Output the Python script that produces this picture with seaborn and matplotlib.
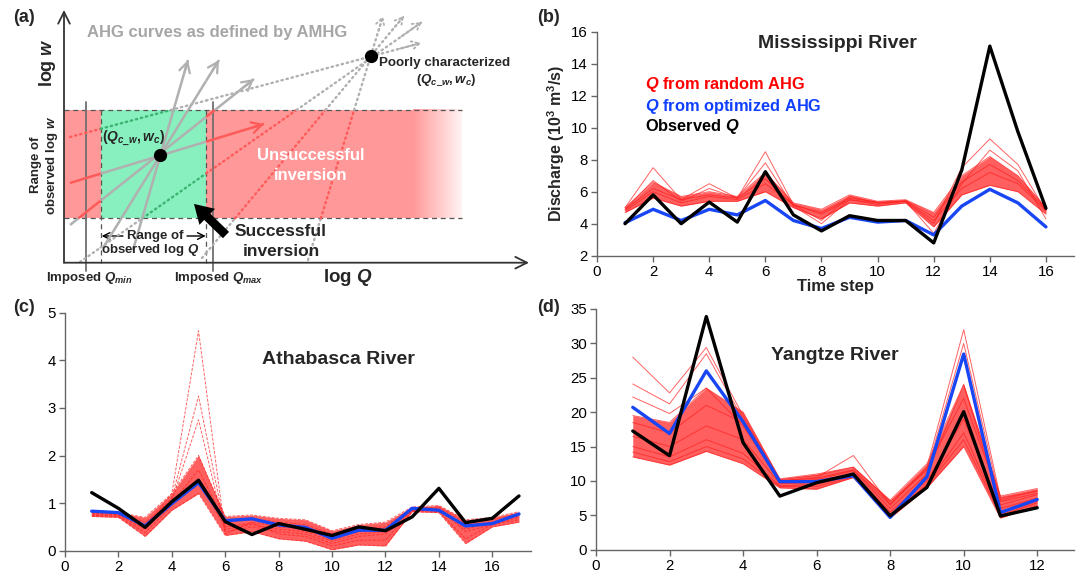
import numpy as np
import pandas as pd
import matplotlib
matplotlib.use("Agg")
import matplotlib.pyplot as plt
import seaborn as sns
from matplotlib.patches import Rectangle, FancyArrowPatch

# ---------------- data ----------------
MS_T = list(range(1, 17))
MS_OBS = [4.0, 5.8, 4.0, 5.35, 4.1, 7.25, 4.55, 3.55, 4.5, 4.2, 4.2, 2.8, 7.35, 15.1, 9.75, 4.96]
MS_OPT = [4.06, 4.9, 4.2, 4.9, 4.55, 5.45, 4.2, 3.7, 4.4, 4.1, 4.2, 3.3, 5.1, 6.15, 5.3, 3.8]
MS_LO = [4.7, 5.6, 5.1, 5.4, 5.4, 6.0, 5.0, 4.3, 5.3, 5.1, 5.3, 3.8, 5.8, 6.4, 6.0, 4.6]
MS_HI = [5.0, 6.6, 5.7, 6.0, 5.7, 7.2, 5.3, 4.9, 5.8, 5.4, 5.5, 4.7, 7.0, 8.2, 7.0, 5.0]
MS_M1 = [5.0, 7.5, 5.5, 6.5, 5.6, 8.5, 5.2, 4.2, 5.7, 5.3, 5.4, 4.0, 7.5, 9.3, 7.7, 4.8]
MS_M2 = [4.9, 6.7, 5.4, 6.2, 5.6, 7.8, 5.1, 4.0, 5.5, 5.2, 5.4, 3.4, 6.5, 8.6, 7.3, 4.3]
MS_M3 = [4.8, 6.0, 5.3, 5.7, 5.5, 6.5, 5.2, 4.6, 5.5, 5.3, 5.4, 4.2, 6.2, 7.2, 6.5, 4.8]
MS_M4 = [4.9, 6.2, 5.5, 5.8, 5.6, 6.8, 5.15, 4.7, 5.6, 5.35, 5.45, 4.4, 6.6, 7.7, 6.7, 4.9]

AT_T = list(range(1, 18))
AT_OBS = [1.22, 0.89, 0.49, 1.03, 1.48, 0.61, 0.34, 0.57, 0.45, 0.32, 0.5, 0.42, 0.71, 1.31, 0.59, 0.68, 1.15]
AT_OPT = [0.83, 0.8, 0.52, 0.99, 1.43, 0.63, 0.67, 0.54, 0.49, 0.26, 0.43, 0.43, 0.89, 0.85, 0.52, 0.57, 0.77]
AT_LO = [0.72, 0.70, 0.30, 0.85, 1.20, 0.32, 0.40, 0.25, 0.20, 0.02, 0.12, 0.10, 0.82, 0.80, 0.15, 0.50, 0.60]
AT_HI = [0.84, 0.80, 0.70, 1.20, 2.00, 0.72, 0.75, 0.68, 0.65, 0.42, 0.55, 0.60, 0.92, 0.95, 0.65, 0.70, 0.82]
AT_M1 = [0.78, 0.76, 0.50, 1.20, 4.62, 0.35, 0.60, 0.50, 0.45, 0.25, 0.40, 0.45, 0.88, 0.90, 0.50, 0.60, 0.72]
AT_M2 = [0.80, 0.77, 0.55, 1.10, 3.25, 0.45, 0.55, 0.45, 0.40, 0.20, 0.35, 0.40, 0.86, 0.88, 0.45, 0.60, 0.75]
AT_M3 = [0.76, 0.74, 0.45, 1.05, 2.75, 0.40, 0.50, 0.40, 0.35, 0.15, 0.30, 0.35, 0.85, 0.87, 0.40, 0.55, 0.70]
AT_M4 = [0.82, 0.79, 0.60, 1.00, 1.70, 0.60, 0.68, 0.60, 0.55, 0.35, 0.48, 0.50, 0.90, 0.92, 0.58, 0.65, 0.78]
AT_M5 = [0.74, 0.72, 0.38, 0.95, 1.45, 0.50, 0.58, 0.35, 0.30, 0.10, 0.22, 0.22, 0.84, 0.83, 0.25, 0.55, 0.65]

YZ_T = list(range(1, 13))
YZ_OBS = [17.26, 13.67, 33.9, 15.56, 7.8, 9.74, 11.0, 4.94, 9.06, 20.07, 4.9, 6.1]
YZ_OPT = [20.7, 16.9, 26.0, 18.6, 9.9, 9.9, 10.76, 4.7, 10.6, 28.45, 5.4, 7.3]
YZ_LO = [13.5, 12.3, 14.3, 12.5, 9.0, 8.8, 10.5, 4.6, 9.0, 15.0, 4.6, 6.4]
YZ_HI = [19.5, 18.5, 23.5, 20.0, 10.3, 11.0, 12.0, 7.2, 12.5, 24.0, 7.8, 8.9]
YZ_M1 = [28.0, 22.8, 29.4, 19.5, 10.0, 10.5, 13.7, 6.5, 12.0, 32.0, 7.5, 8.5]
YZ_M2 = [24.1, 21.2, 28.5, 19.0, 10.2, 10.8, 12.0, 7.0, 11.5, 30.0, 7.0, 8.2]
YZ_M3 = [22.2, 19.8, 23.5, 18.0, 9.8, 10.2, 11.5, 6.0, 11.0, 24.0, 6.5, 8.0]
YZ_M4 = [16.5, 15.0, 18.0, 16.0, 9.6, 9.8, 11.0, 5.5, 10.0, 19.0, 6.0, 7.5]
YZ_M5 = [15.0, 13.5, 16.0, 14.0, 9.3, 9.5, 10.8, 5.0, 9.5, 17.0, 5.3, 7.0]
YZ_M6 = [18.5, 17.0, 21.0, 18.5, 10.0, 10.4, 11.6, 6.6, 11.8, 22.0, 7.2, 8.6]
YZ_M7 = [14.2, 12.8, 15.0, 13.2, 9.2, 9.2, 10.6, 4.8, 9.3, 16.0, 5.0, 6.8]

# ---------------- schematic geometry for panel (a), pixel units ----------------
A_ORIGIN = (64, 262.7)
A_X_END = (529, 262.7)
A_Y_END = (64, 10)
A_BOX_Y = (110, 218.3)
A_GREEN_X = (100.7, 206.2)
A_PINK_X = (64, 462)
A_FADE_X0 = 413
A_IMPOSED_X = (85.5, 212.7)
A_IMPOSED_Y = (102, 271)
A_C = (160, 155)
A_P = (371, 56)
A_SOLID = [((70, 225), (254, 79)), ((70, 183), (264, 124)),
           ((103, 248), (219, 60)), ((133, 250), (188, 60))]
A_DOTTED = [((70, 137), (421, 43)), ((80, 262), (422, 22)),
            ((202, 258), (404, 16)), ((308, 260), (383, 16))]
A_BIG_ARROW = ((228, 237), (192, 202))

# ---------------- style ----------------
sns.set_theme(style="ticks")
plt.rcParams["font.family"] = ["Liberation Sans", "DejaVu Sans"]
plt.rcParams["mathtext.fontset"] = "custom"
plt.rcParams["mathtext.it"] = "Liberation Sans:italic:bold"
plt.rcParams["mathtext.rm"] = "Liberation Sans:bold"
plt.rcParams["mathtext.bf"] = "Liberation Sans:bold"

W, H = 1081, 579
fig = plt.figure(figsize=(W / 100, H / 100), dpi=100)
fig.patch.set_facecolor("white")

ax0 = fig.add_axes([0, 0, 1, 1])
ax0.set_xlim(0, W)
ax0.set_ylim(H, 0)
ax0.axis("off")
ax0.patch.set_visible(False)

PINK = (1.0, 0.60, 0.60)
GREEN = "#88f0be"
REDLINE = "#ff5a5a"
GRAYLINE = "#b0b0b0"
GREENDOT = "#3cb371"

# boxes
ax0.add_patch(Rectangle((A_PINK_X[0], A_BOX_Y[0]), A_GREEN_X[0] - A_PINK_X[0],
                        A_BOX_Y[1] - A_BOX_Y[0], color=PINK, lw=0, zorder=1))
ax0.add_patch(Rectangle((A_GREEN_X[1], A_BOX_Y[0]), A_FADE_X0 - A_GREEN_X[1],
                        A_BOX_Y[1] - A_BOX_Y[0], color=PINK, lw=0, zorder=1))
ax0.add_patch(Rectangle((A_GREEN_X[0], A_BOX_Y[0]), A_GREEN_X[1] - A_GREEN_X[0],
                        A_BOX_Y[1] - A_BOX_Y[0], color=GREEN, lw=0, zorder=1))
grad = np.zeros((1, 64, 4))
grad[..., 0], grad[..., 1], grad[..., 2] = PINK
grad[0, :, 3] = np.linspace(1, 0.12, 64)
ax0.imshow(grad, extent=(A_FADE_X0, A_PINK_X[1], A_BOX_Y[1], A_BOX_Y[0]),
           aspect="auto", interpolation="bilinear", zorder=1)
ax0.set_xlim(0, W)
ax0.set_ylim(H, 0)

# dashed box lines
for yb in A_BOX_Y:
    ax0.plot([A_PINK_X[0], A_PINK_X[1]], [yb, yb], color="#555555", lw=0.9,
             ls=(0, (4, 3)), zorder=3)
for xb in A_GREEN_X:
    ax0.plot([xb, xb], [A_BOX_Y[0], A_ORIGIN[1]], color="#555555", lw=0.9,
             ls=(0, (4, 3)), zorder=3)
# imposed lines
for xi in A_IMPOSED_X:
    ax0.plot([xi, xi], list(A_IMPOSED_Y), color="#707070", lw=1.3, zorder=3)


def region(x, y):
    if A_BOX_Y[0] <= y <= A_BOX_Y[1]:
        if A_GREEN_X[0] <= x <= A_GREEN_X[1]:
            return "green"
        if A_PINK_X[0] <= x <= A_PINK_X[1]:
            return "pink"
    return "out"


COLS = {"solid": {"out": GRAYLINE, "green": GRAYLINE, "pink": REDLINE},
        "dotted": {"out": GRAYLINE, "green": GREENDOT, "pink": REDLINE}}


def draw_line(p0, p1, style):
    (x0, y0), (x1, y1) = p0, p1
    ts = {0.0, 1.0}
    for bx in [A_PINK_X[0], A_GREEN_X[0], A_GREEN_X[1], A_PINK_X[1]]:
        t = (bx - x0) / (x1 - x0)
        if 0 < t < 1:
            ts.add(t)
    for by in A_BOX_Y:
        t = (by - y0) / (y1 - y0)
        if 0 < t < 1:
            ts.add(t)
    ts = sorted(ts)
    last = None
    for ta, tb in zip(ts[:-1], ts[1:]):
        tm = 0.5 * (ta + tb)
        col = COLS[style][region(x0 + tm * (x1 - x0), y0 + tm * (y1 - y0))]
        kw = dict(color=col, lw=1.8, zorder=4)
        if style == "dotted":
            kw.update(ls=(0, (0.6, 1.6)), dash_capstyle="round", lw=1.7)
        else:
            kw.update(solid_capstyle="butt")
        ax0.plot([x0 + ta * (x1 - x0), x0 + tb * (x1 - x0)],
                 [y0 + ta * (y1 - y0), y0 + tb * (y1 - y0)], **kw)
        last = col
    back = (x1 - 0.06 * (x1 - x0), y1 - 0.06 * (y1 - y0))
    if style == "dotted":
        ap = dict(arrowstyle="->,head_length=0.5,head_width=0.28", color=last,
                  lw=1.3, shrinkA=0, shrinkB=0, mutation_scale=11, linestyle=":")
    else:
        ap = dict(arrowstyle="->,head_length=0.55,head_width=0.3", color=last,
                  lw=1.6, shrinkA=0, shrinkB=0, mutation_scale=13)
    ax0.annotate("", xy=(x1, y1), xytext=back, arrowprops=ap, zorder=4)


for p0, p1 in A_DOTTED:
    draw_line(p0, p1, "dotted")
for p0, p1 in A_SOLID:
    draw_line(p0, p1, "solid")

# axes with arrows
for end in (A_X_END, A_Y_END):
    ax0.annotate("", xy=end, xytext=A_ORIGIN,
                 arrowprops=dict(arrowstyle="->,head_length=0.6,head_width=0.3",
                                 color="#333333", lw=1.3, shrinkA=0, shrinkB=0,
                                 mutation_scale=14), zorder=5)

# points
ax0.plot(*A_C, "o", color="black", ms=8.5, zorder=6)
ax0.plot(*A_P, "o", color="black", ms=8.5, zorder=6)

# big arrow
ax0.add_patch(FancyArrowPatch(A_BIG_ARROW[0], A_BIG_ARROW[1],
                              arrowstyle="simple,head_width=1.15,head_length=0.95,tail_width=0.45",
                              mutation_scale=14, color="black", lw=0, zorder=6))

# range-of-Q arrows
ax0.annotate("", xy=(A_GREEN_X[0] + 1, 236), xytext=(123, 236),
             arrowprops=dict(arrowstyle="->", color="black", lw=1.0, shrinkA=0, shrinkB=0))
ax0.annotate("", xy=(A_GREEN_X[1] - 0.5, 236), xytext=(187, 236),
             arrowprops=dict(arrowstyle="->", color="black", lw=1.0, shrinkA=0, shrinkB=0))

# texts of panel (a)
tk = dict(ha="center", va="center", fontweight="bold", zorder=7)
ax0.text(24, 18, "(a)", fontsize=13, **tk)
ax0.text(217, 32, "AHG curves as defined by AMHG", fontsize=12, color="#a6a6a6", **tk)
ax0.text(47, 63, r"log $w$", fontsize=13, rotation=90, **tk)
ax0.text(348, 278, r"log $Q$", fontsize=13.5, **tk)
ax0.text(89, 278, r"Imposed $Q_{min}$", fontsize=9.5, **tk)
ax0.text(219, 278, r"Imposed $Q_{max}$", fontsize=9.5, **tk)
ax0.text(45, 165, "Range of\n" + r"observed log $w$", fontsize=9.5, rotation=90,
         linespacing=1.1, ha="center", va="center", fontweight="bold", zorder=7)
ax0.text(133, 138, r"$(Q_{c\_w}, w_c)$", fontsize=10, **tk)
ax0.text(379, 63, "Poorly characterized", fontsize=9.6, ha="left", va="center",
         fontweight="bold", zorder=7)
ax0.text(446, 80, r"$(Q_{c\_w}, w_c)$", fontsize=9.6, **tk)
ax0.text(311, 155, "Unsuccessful", fontsize=12, color="white", **tk)
ax0.text(311, 175, "inversion", fontsize=12, color="white", **tk)
ax0.text(281, 231, "Successful", fontsize=12.5, **tk)
ax0.text(281, 252, "inversion", fontsize=12.5, **tk)
ax0.text(155, 236, "Range of", fontsize=9.5, **tk)
ax0.text(150, 250, r"observed log $Q$", fontsize=9.5, **tk)

# panel labels and titles
ax0.text(548, 17, "(b)", fontsize=13, **tk)
ax0.text(24, 308, "(c)", fontsize=13, **tk)
ax0.text(548, 308, "(d)", fontsize=13, **tk)
ax0.text(837, 43, "Mississippi River", fontsize=14, **tk)
ax0.text(338, 359, "Athabasca River", fontsize=14, **tk)
ax0.text(835, 356, "Yangtze River", fontsize=14, **tk)
ax0.text(645, 85, r"$Q$ from random AHG", fontsize=11.8, color="#ff0000",
         ha="left", va="center", fontweight="bold", zorder=7)
ax0.text(645, 106, r"$Q$ from optimized AHG", fontsize=11.8, color="#1040ff",
         ha="left", va="center", fontweight="bold", zorder=7)
ax0.text(645, 126, r"Observed $Q$", fontsize=11.8, color="black",
         ha="left", va="center", fontweight="bold", zorder=7)


# ---------------- time-series panels ----------------
def px_axes(left, right, top, bottom):
    return fig.add_axes([left / W, 1 - bottom / H, (right - left) / W, (bottom - top) / H])


def style_axes(ax, xlim, ylim, xticks, yticks):
    ax.set_facecolor("none")
    ax.set_xlim(*xlim)
    ax.set_ylim(*ylim)
    ax.set_xticks(xticks)
    ax.set_yticks(yticks)
    for s in ["top", "right"]:
        ax.spines[s].set_visible(False)
    for s in ["left", "bottom"]:
        ax.spines[s].set_color("#666666")
        ax.spines[s].set_linewidth(1.0)
    ax.tick_params(direction="out", length=4, width=1.0, color="#666666",
                   labelsize=10.8, labelcolor="black", pad=2.5)
    ax.set_xlabel("")
    ax.set_ylabel("")


def draw_series(ax, t, obs, opt, lo, hi, members, dashed=False):
    ax.fill_between(t, lo, hi, color="#ff2a2a", alpha=0.75, lw=0, zorder=1)
    rows = []
    for k, m in enumerate([lo, hi] + members):
        for ti, v in zip(t, m):
            rows.append({"t": ti, "Q": v, "member": k})
    df = pd.DataFrame(rows)
    sns.lineplot(data=df, x="t", y="Q", units="member", estimator=None, ax=ax,
                 color="#ff2020", lw=0.7, alpha=0.7, zorder=2,
                 linestyle=(0, (3, 1.5)) if dashed else "-")
    sns.lineplot(x=t, y=opt, ax=ax, color="#1846f5", lw=2.4, zorder=3)
    sns.lineplot(x=t, y=obs, ax=ax, color="black", lw=2.4, zorder=4)


axb = px_axes(597, 1074, 31.7, 255.7)
draw_series(axb, MS_T, MS_OBS, MS_OPT, MS_LO, MS_HI, [MS_M1, MS_M2, MS_M3, MS_M4])
style_axes(axb, (0, 17), (2, 16), range(0, 17, 2), range(2, 17, 2))
axb.set_ylabel(r"Discharge (10$^3$ m$^3$/s)", fontsize=11.5, fontweight="bold", labelpad=3)
axb.set_xlabel("Time step", fontsize=12, fontweight="bold", labelpad=0)

axc = px_axes(65, 531, 312.7, 550.7)
draw_series(axc, AT_T, AT_OBS, AT_OPT, AT_LO, AT_HI, [AT_M1, AT_M2, AT_M3, AT_M4, AT_M5],
            dashed=True)
style_axes(axc, (0, 17.45), (0, 5), range(0, 17, 2), range(0, 6))

axd = px_axes(596, 1074, 309, 549.7)
draw_series(axd, YZ_T, YZ_OBS, YZ_OPT, YZ_LO, YZ_HI,
            [YZ_M1, YZ_M2, YZ_M3, YZ_M4, YZ_M5, YZ_M6, YZ_M7])
style_axes(axd, (0, 13), (0, 35), range(0, 13, 2), range(0, 36, 5))

for ax in (axb, axc, axd):
    leg = ax.get_legend()
    if leg is not None:
        leg.remove()

fig.savefig("out.png", dpi=100, facecolor="white")
